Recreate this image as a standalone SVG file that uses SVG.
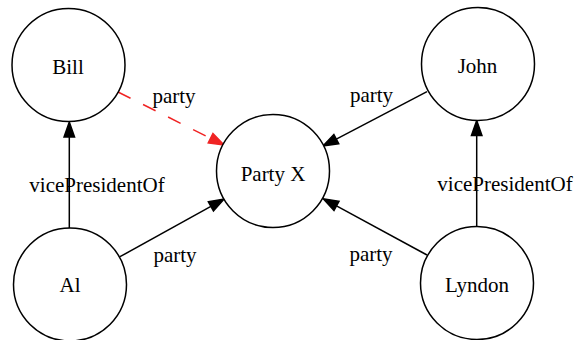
<svg xmlns="http://www.w3.org/2000/svg" width="577" height="340" viewBox="0 0 577 340">
  <style>
    .node circle { fill: #ffffff; stroke: #000000; stroke-width: 1.5; }
    text { font-family: "Liberation Serif", "Times New Roman", serif; font-size: 21px; fill: #000000; text-anchor: middle; }
    .edge { fill: none; stroke: #000000; stroke-width: 1.5; }
    .edge.dashed { stroke: #f02424; stroke-dasharray: 14 14; }
  </style>
  <defs>
    <marker id="arrow" markerUnits="userSpaceOnUse" markerWidth="20" markerHeight="14" refX="0" refY="0" viewBox="-2 -7 20 14" orient="auto" overflow="visible">
      <path d="M0,-5.25 L15,0 L0,5.25 Z" fill="#000000" stroke="#000000" stroke-width="1.5" stroke-linejoin="miter"/>
    </marker>
    <marker id="arrow-red" markerUnits="userSpaceOnUse" markerWidth="20" markerHeight="14" refX="0" refY="0" viewBox="-2 -7 20 14" orient="auto" overflow="visible">
      <path d="M0,-5.25 L15,0 L0,5.25 Z" fill="#f02424" stroke="#f02424" stroke-width="1.5" stroke-linejoin="miter"/>
    </marker>
  </defs>

  <rect x="0" y="0" width="577" height="340" fill="#ffffff"/>

  <!-- connectors -->
  <g id="edges">
    <g id="edge-bill-party">
      <path class="edge dashed" d="M118,92 L210.6,138.3" marker-end="url(#arrow-red)"/>
      <text x="174" y="102.5">party</text>
    </g>
    <g id="edge-john-party">
      <path class="edge" d="M427,91.7 L336.3,139.1" marker-end="url(#arrow)"/>
      <text x="371.5" y="101.5">party</text>
    </g>
    <g id="edge-al-party">
      <path class="edge" d="M120,256.7 L210.9,206.3" marker-end="url(#arrow)"/>
      <text x="175" y="261.5">party</text>
    </g>
    <g id="edge-lyndon-party">
      <path class="edge" d="M427,255 L336.5,205.9" marker-end="url(#arrow)"/>
      <text x="371" y="260.5">party</text>
    </g>
    <g id="edge-al-bill">
      <path class="edge" d="M69.3,228 L69.3,137" marker-end="url(#arrow)"/>
      <text x="97" y="191.5">vicePresidentOf</text>
    </g>
    <g id="edge-lyndon-john">
      <path class="edge" d="M476.7,226.5 L476.7,135.5" marker-end="url(#arrow)"/>
      <text x="505" y="190.5">vicePresidentOf</text>
    </g>
  </g>

  <!-- nodes -->
  <g id="node-bill" class="node">
    <circle cx="68.5" cy="65" r="56.5"/>
    <text x="68" y="73.5">Bill</text>
  </g>
  <g id="node-john" class="node">
    <circle cx="478" cy="64" r="56.5"/>
    <text x="477.5" y="73">John</text>
  </g>
  <g id="node-partyx" class="node">
    <circle cx="273" cy="171" r="56.5"/>
    <text x="273" y="181">Party X</text>
  </g>
  <g id="node-al" class="node">
    <circle cx="70" cy="284.5" r="56.5"/>
    <text x="70" y="291.5">Al</text>
  </g>
  <g id="node-lyndon" class="node">
    <circle cx="477" cy="283" r="56.5"/>
    <text x="477" y="291.5">Lyndon</text>
  </g>
</svg>
